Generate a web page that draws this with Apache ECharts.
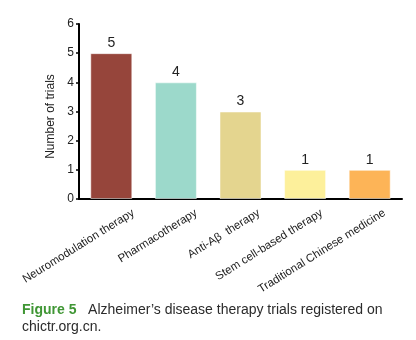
<!DOCTYPE html>
<html>
<head>
<meta charset="utf-8">
<script src="https://cdn.jsdelivr.net/npm/echarts@6/dist/echarts.min.js"></script>
<style>html,body{margin:0;padding:0;background:#fff;}#c{width:416px;height:340px;}</style>
</head>
<body>
<div id="c"></div>
<script>
const categories = ["Neuromodulation therapy", "Pharmacotherapy", "Anti-A\u03b2  therapy", "Stem cell-based therapy", "Traditional Chinese medicine"];
const trials = [5, 4, 3, 1, 1];
const barColors = ["#96453b", "#9cd9cb", "#e4d58f", "#fdf09b", "#fdb457"];
const yTicks = [0, 1, 2, 3, 4, 5, 6];

const chart = echarts.init(document.getElementById('c'), null, {renderer: 'canvas'});
const font = '"Liberation Sans", Arial, sans-serif';
chart.setOption({
  animation: false,
  textStyle: {fontFamily: font},
  title: {
    left: 17, top: 297,
    text: '{g|Figure 5}{t|   Alzheimer\u2019s disease therapy trials registered on}\n{t|chictr.org.cn.}',
    textStyle: {
      fontWeight: 'normal',
      rich: {
        g: {fontFamily: font, fontSize: 14, fontWeight: 'bold', color: '#3f9634', lineHeight: 17},
        t: {fontFamily: font, fontSize: 14, fontWeight: 'normal', color: '#2b2b2b', lineHeight: 17}
      }
    }
  },
  grid: [
    {left: 79, width: 323, top: 24, height: 175, containLabel: false},
    {left: 102, width: 323, top: 24, height: 175, containLabel: false}
  ],
  xAxis: [
    {
      type: 'category', gridIndex: 0, data: categories,
      axisLine: {lineStyle: {color: '#000', width: 2}},
      axisTick: {show: false},
      axisLabel: {show: false}
    },
    {
      type: 'category', gridIndex: 1, data: categories,
      axisLine: {show: false}, axisTick: {show: false},
      axisLabel: {interval: 0, rotate: 32, margin: 13, fontSize: 11.5, color: '#222', fontFamily: font}
    }
  ],
  yAxis: [
    {
      type: 'value', gridIndex: 0, min: yTicks[0], max: yTicks[yTicks.length - 1], interval: 1,
      name: 'Number of trials', nameLocation: 'middle', nameGap: 18,
      nameTextStyle: {fontSize: 12, color: '#222', fontFamily: font, padding: [0, 10, 0, 0]},
      axisLine: {show: true, lineStyle: {color: '#000', width: 2}},
      axisTick: {show: true, length: 3, lineStyle: {color: '#000', width: 1.5}},
      axisLabel: {fontSize: 12, color: '#222', margin: 5, fontFamily: font},
      splitLine: {show: false}
    },
    {type: 'value', gridIndex: 1, min: 0, max: 6, show: false}
  ],
  series: [{
    type: 'bar', xAxisIndex: 0, yAxisIndex: 0,
    barWidth: 42,
    data: trials.map((v, i) => ({value: v, itemStyle: {color: barColors[i]}})),
    itemStyle: {borderColor: 'rgba(255,255,255,0.5)', borderWidth: 1},
    label: {show: true, position: 'top', distance: 3, fontSize: 14, color: '#222', fontFamily: font}
  }]
});
</script>
</body>
</html>
